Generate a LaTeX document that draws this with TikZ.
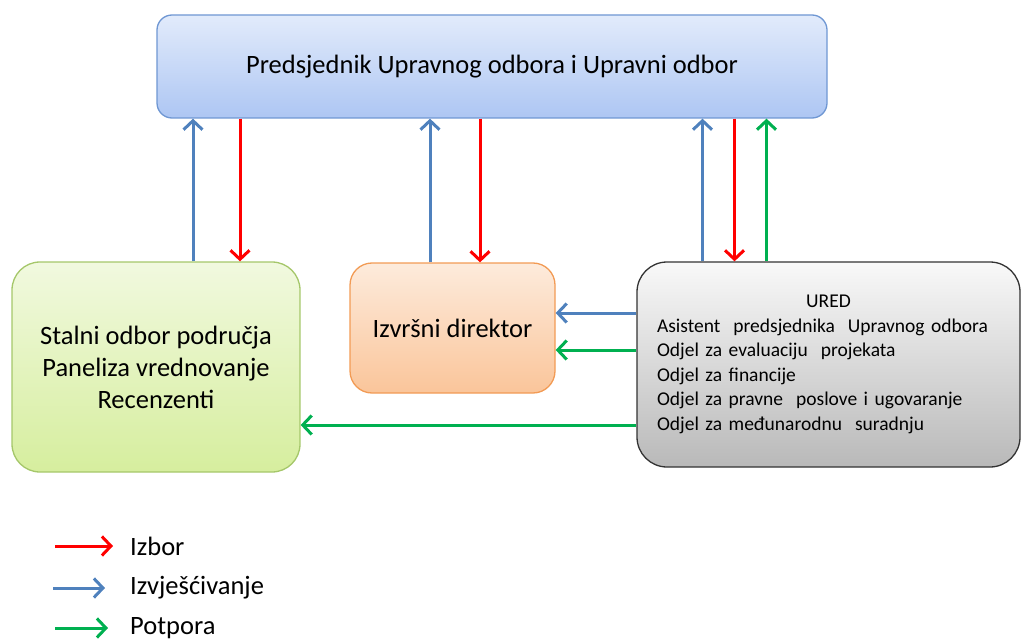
\documentclass[tikz,border=0pt]{standalone}
\usepackage{fontspec}
\setmainfont{Carlito}
\usetikzlibrary{arrows.meta,positioning}
\definecolor{izborred}{HTML}{FF0000}
\definecolor{izvjblue}{HTML}{4F81BD}
\definecolor{potgreen}{HTML}{00B050}
\definecolor{upravnitop}{HTML}{E2EBFB}
\definecolor{upravnibot}{HTML}{ADC6F3}
\definecolor{upravniline}{HTML}{6F97D3}
\definecolor{stalnitop}{HTML}{F1F9DF}
\definecolor{stalnibot}{HTML}{D6EE9E}
\definecolor{stalniline}{HTML}{A5C76A}
\definecolor{izvrsnitop}{HTML}{FDEBDC}
\definecolor{izvrsnibot}{HTML}{FAC59A}
\definecolor{izvrsniline}{HTML}{F29B55}

\begin{document}
\begin{tikzpicture}[x=1pt,y=-1pt,
    box/.style={draw, rounded corners=#1, line width=1.3pt, align=center,
      inner sep=0pt, font=\fontsize{26.5}{32}\selectfont},
    box/.default=20pt,
    arr/.style={line width=3pt, -{Straight Barb[length=9pt,width=19pt,line width=3pt]}},
    legtext/.style={anchor=west, inner sep=0pt, font=\fontsize{26.5}{32}\selectfont}]
    \useasboundingbox (0,0) rectangle (1022,639);

    % boxes
    \node[box=15pt, draw=upravniline, top color=upravnitop, bottom color=upravnibot,
      minimum width=670pt, minimum height=103pt] (upravni) at (492,66.5)
      {Predsjednik Upravnog odbora i Upravni odbor};
    \node[box=28pt, draw=stalniline, top color=stalnitop, bottom color=stalnibot,
      minimum width=288pt, minimum height=210pt]
      (stalni) at (156,367) {Stalni odbor područja\\Paneliza vrednovanje\\Recenzenti};
    \node[box=22pt, draw=izvrsniline, top color=izvrsnitop, bottom color=izvrsnibot,
      minimum width=205pt, minimum height=130pt] (izvrsni) at (452.5,328)
      {Izvršni direktor};
    \node[box=30pt, draw=black!80, top color=gray!5, bottom color=gray!55,
      minimum height=205pt, text width=343pt, inner xsep=20pt, align=left,
      font=\fontsize{19.5}{24.5}\selectfont] (ured) at (828.5,364.5)
      {\makebox[\linewidth]{URED}\\
       Asistent\ \ predsjednika\ \ Upravnog odbora\\
       Odjel\ za evaluaciju\ \ projekata\\
       Odjel\ za financije\\
       Odjel\ za pravne\ \ poslove i ugovaranje\\
       Odjel\ za međunarodnu\ \ suradnju};

    % izvjescivanje (up)
    \draw[arr, izvjblue] ([xshift=37pt]stalni.north) -- ([xshift=37pt]stalni.north |- upravni.south);
    \draw[arr, izvjblue] ([xshift=-22.5pt]izvrsni.north) -- ([xshift=-22.5pt]izvrsni.north |- upravni.south);
    \draw[arr, izvjblue] ([xshift=-126pt]ured.north) -- ([xshift=-126pt]ured.north |- upravni.south);
    % izbor (down)
    \draw[arr, izborred] ([xshift=84pt]stalni.north |- upravni.south) -- ([xshift=84pt]stalni.north);
    \draw[arr, izborred] ([xshift=27.5pt]izvrsni.north |- upravni.south) -- ([xshift=27.5pt]izvrsni.north);
    \draw[arr, izborred] ([xshift=-94pt]ured.north |- upravni.south) -- ([xshift=-94pt]ured.north);
    % potpora
    \draw[arr, potgreen] ([xshift=-62pt]ured.north) -- ([xshift=-62pt]ured.north |- upravni.south);
    \draw[arr, izvjblue] ([yshift=51.5pt]ured.west) -- ([yshift=51.5pt]ured.west -| izvrsni.east);
    \draw[arr, potgreen] ([yshift=14.5pt]ured.west) -- ([yshift=14.5pt]ured.west -| izvrsni.east);
    \draw[arr, potgreen] ([yshift=-60.5pt]ured.west) -- ([yshift=-60.5pt]ured.west -| stalni.east);

    % legend
    \node[legtext] (izbor) at (130,546) {Izbor};
    \node[legtext] (izvj) at (130,588) {Izvješćivanje};
    \node[legtext] (potpora) at (130,628) {Potpora};
    \draw[arr, izborred] ([xshift=-75pt]izbor.west) -- ([xshift=-17pt]izbor.west);
    \draw[arr, izvjblue] ([xshift=-77pt]izvj.west) -- ([xshift=-25pt]izvj.west);
    \draw[arr, potgreen] ([xshift=-75pt]potpora.west) -- ([xshift=-22pt]potpora.west);
\end{tikzpicture}
\end{document}
